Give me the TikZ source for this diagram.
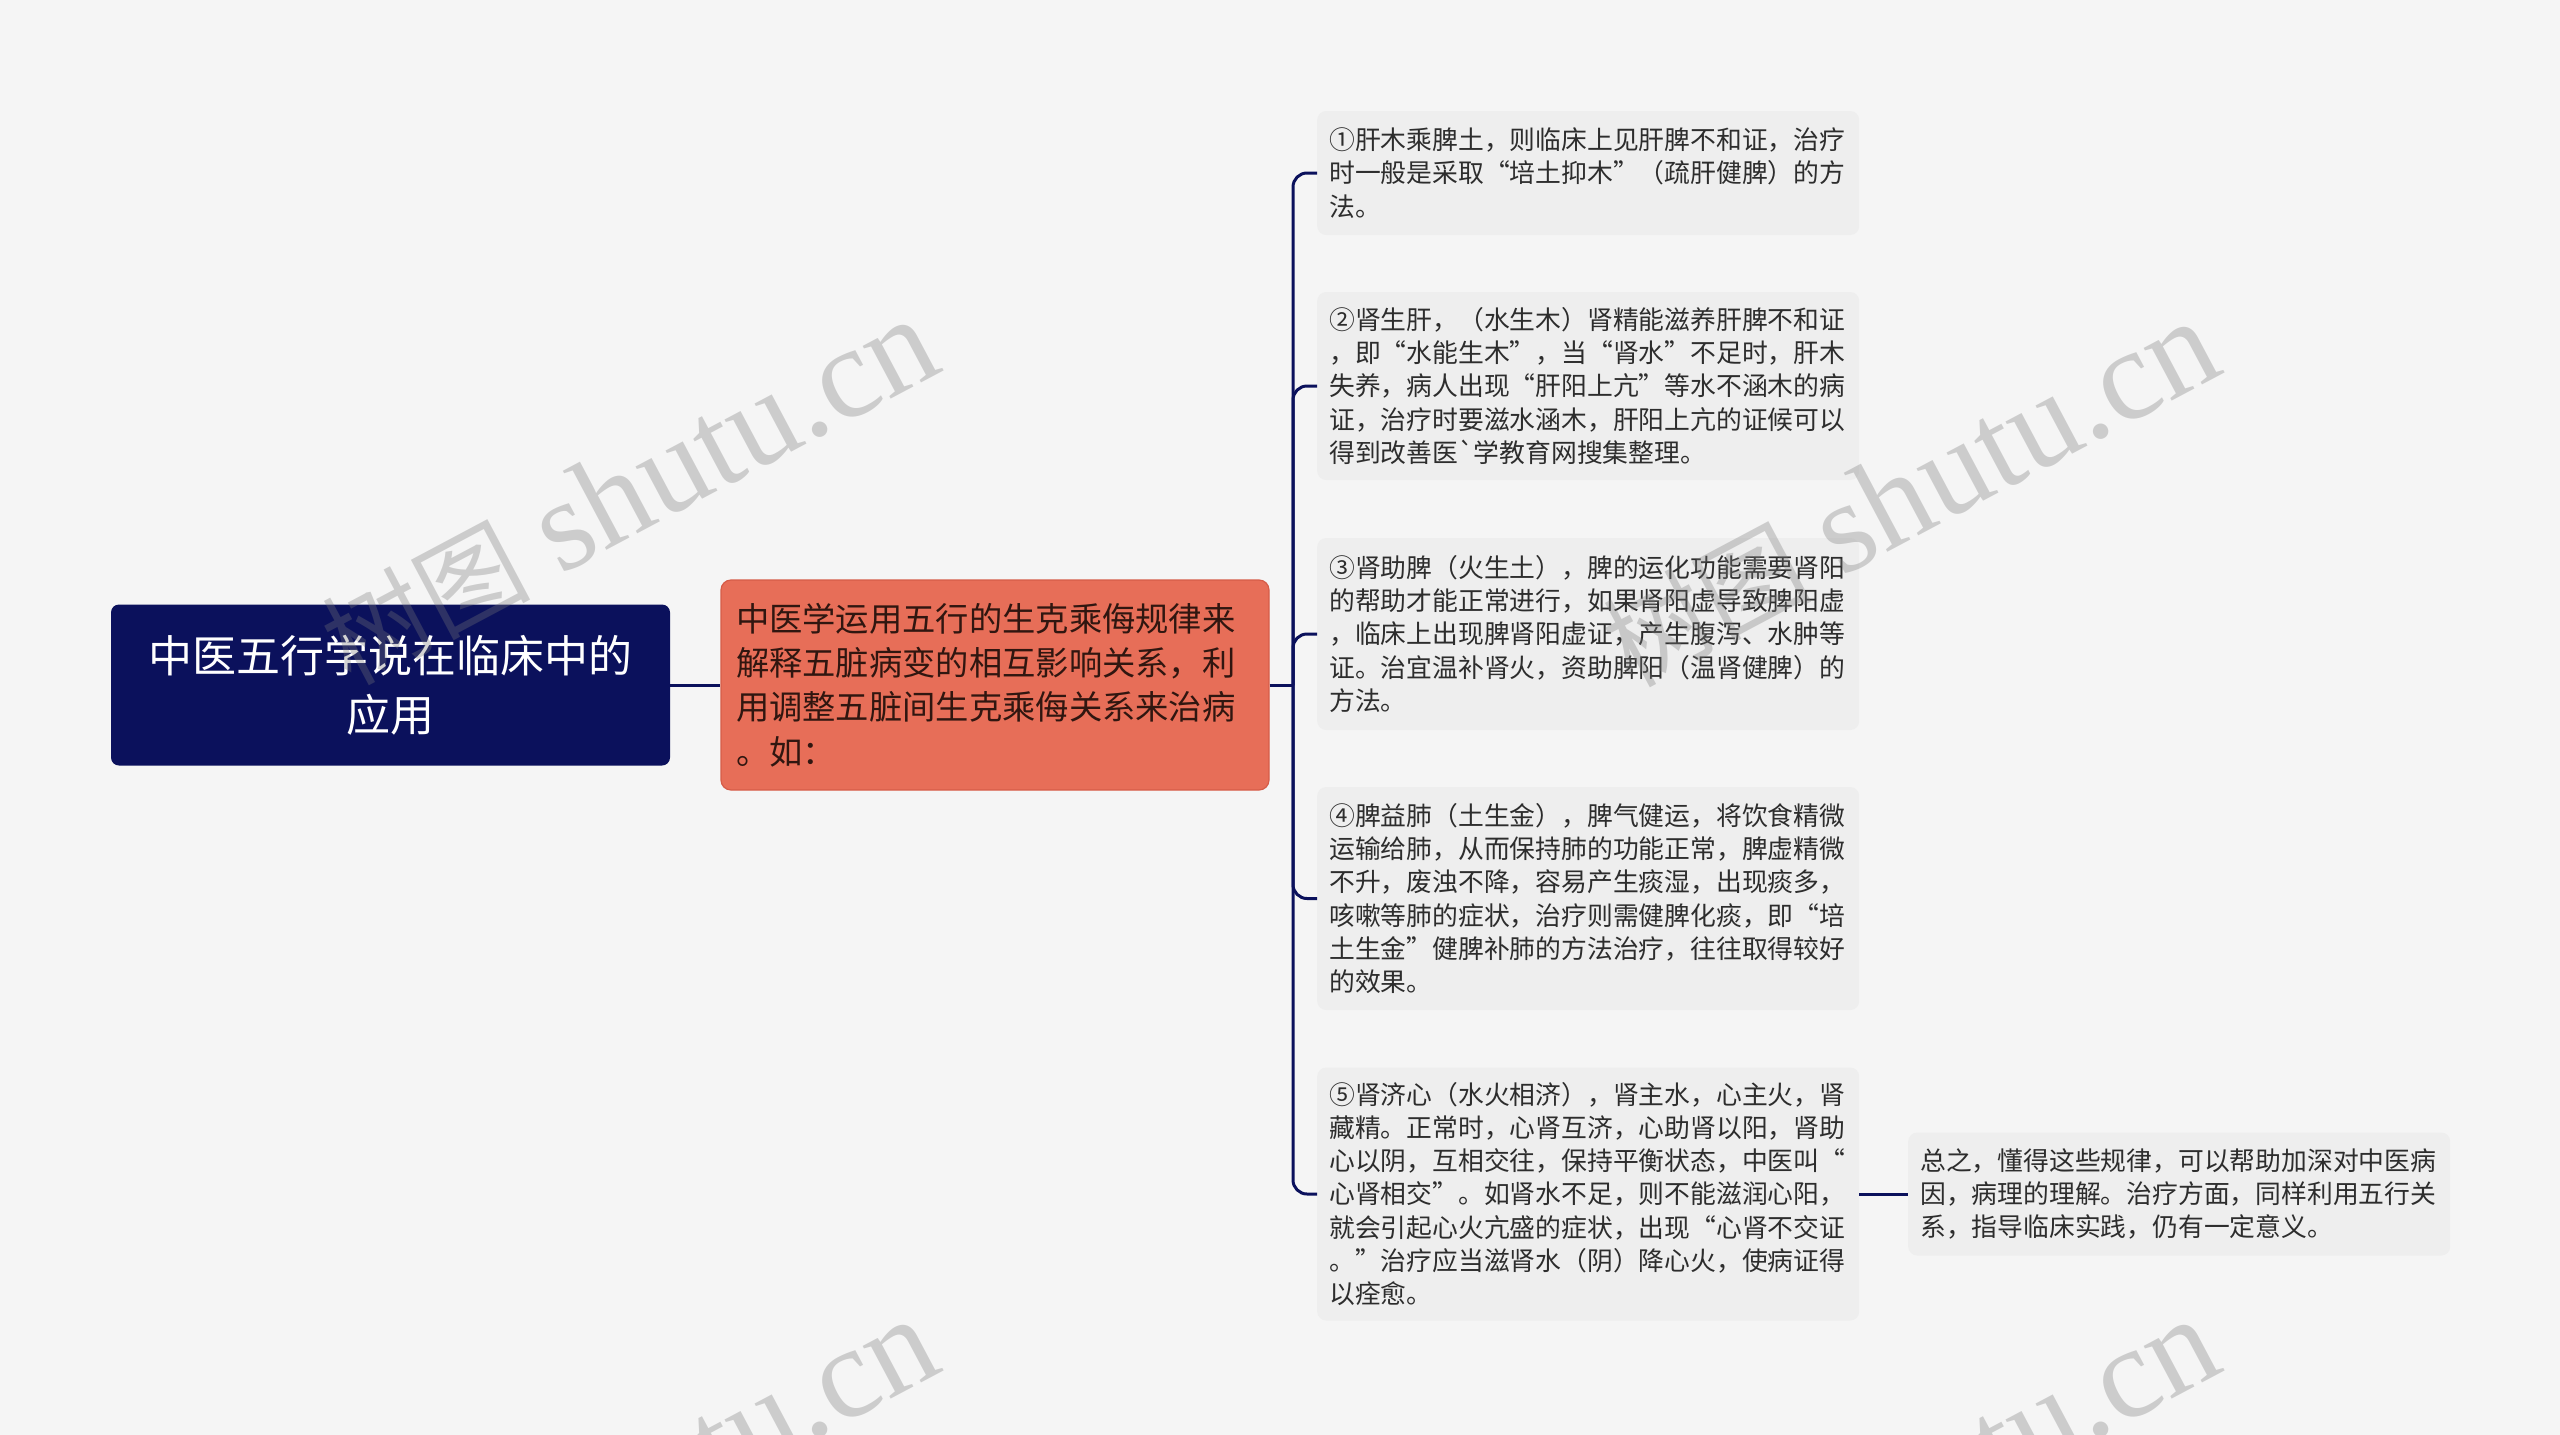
\documentclass[tikz,border=0pt]{standalone}
\usepackage{fontspec}
\setmainfont{Noto Sans CJK SC}
\newfontfamily\cjkplain{Noto Sans CJK SC}
\newfontfamily\wmlat{Liberation Serif}
\definecolor{bgcol}{RGB}{245,245,245}
\definecolor{navy}{RGB}{11,17,92}
\definecolor{orangefill}{RGB}{231,110,88}
\definecolor{orangeline}{RGB}{214,92,72}
\definecolor{orangetext}{RGB}{48,22,16}
\definecolor{cboxfill}{RGB}{238,238,238}
\definecolor{ctext}{RGB}{45,45,45}
\definecolor{wmcol}{RGB}{120,120,120}
\tikzset{
  conn/.style={draw=navy, line width=3pt},
  rootbox/.style={fill=navy, rounded corners=8pt, text=white, align=center,
    minimum width=559pt, minimum height=161pt, text width=540pt, inner sep=0pt,
    font=\fontsize{44}{59}\selectfont},
  orangebox/.style={fill=orangefill, draw=orangeline, line width=1.2pt, rounded corners=10pt,
    text=orangetext, align=left, minimum width=548pt, minimum height=210pt,
    text width=518pt, inner xsep=15pt, inner ysep=0pt,
    font=\fontsize{33.3}{44.3}\selectfont},
  childbox/.style={fill=cboxfill, rounded corners=9pt, text=ctext, align=left,
    text width=518pt, inner xsep=12pt, inner ysep=0pt, anchor=west,
    font=\fontsize{25.8}{33.3}\selectfont},
  wm/.style={text=wmcol, text opacity=0.32, rotate=28, anchor=base east, inner sep=0pt,
    font=\fontsize{130}{130}\selectfont}
}
\newcommand{\wmtext}{{\cjkplain\fontsize{104}{104}\selectfont 树图} {\wmlat shutu.cn}}
\begin{document}
\begin{tikzpicture}[x=1pt,y=-1pt]
\useasboundingbox (0,0) rectangle (2560,1435);
\fill[bgcol] (0,0) rectangle (2560,1435);

\node[rootbox] (root) at (390.5,685) {中医五行学说在临床中的\\应用};
\node[orangebox] (orange) at (995,685) {中医学运用五行的生克乘侮规律来\\解释五脏病变的相互影响关系，利\\用调整五脏间生克乘侮关系来治病\\。如：};

\node[childbox, minimum height=124pt] (c1) at (1317,173) {①肝木乘脾土，则临床上见肝脾不和证，治疗\\时一般是采取“培土抑木”（疏肝健脾）的方\\法。};
\node[childbox, minimum height=188pt] (c2) at (1317,386) {②肾生肝，（水生木）肾精能滋养肝脾不和证\\，即“水能生木”，当“肾水”不足时，肝木\\失养，病人出现“肝阳上亢”等水不涵木的病\\证，治疗时要滋水涵木，肝阳上亢的证候可以\\得到改善医{\cjkplain `}学教育网搜集整理。};
\node[childbox, minimum height=192pt] (c3) at (1317,634) {③肾助脾（火生土），脾的运化功能需要肾阳\\的帮助才能正常进行，如果肾阳虚导致脾阳虚\\，临床上出现脾肾阳虚证，产生腹泻、水肿等\\证。治宜温补肾火，资助脾阳（温肾健脾）的\\方法。};
\node[childbox, minimum height=223pt] (c4) at (1317,898.5) {④脾益肺（土生金），脾气健运，将饮食精微\\运输给肺，从而保持肺的功能正常，脾虚精微\\不升，废浊不降，容易产生痰湿，出现痰多，\\咳嗽等肺的症状，治疗则需健脾化痰，即“培\\土生金”健脾补肺的方法治疗，往往取得较好\\的效果。};
\node[childbox, minimum height=253pt] (c5) at (1317,1194) {⑤肾济心（水火相济），肾主水，心主火，肾\\藏精。正常时，心肾互济，心助肾以阳，肾助\\心以阴，互相交往，保持平衡状态，中医叫“\\心肾相交”。如肾水不足，则不能滋润心阳，\\就会引起心火亢盛的症状，出现“心肾不交证\\。”治疗应当滋肾水（阴）降心火，使病证得\\以痊愈。};
\node[childbox, minimum height=123pt] (fin) at (1908,1194) {总之，懂得这些规律，可以帮助加深对中医病\\因，病理的理解。治疗方面，同样利用五行关\\系，指导临床实践，仍有一定意义。};

\coordinate (sp) at (1293,685);
\draw[conn] (root.east) -- (orange.west);
\draw[conn] (orange.east) -- (sp);
\foreach \i in {1,...,5} {
  \draw[conn, rounded corners=14pt] (sp) |- (c\i.west);
}
\draw[conn] (c5.east) -- (fin.west);

\node[wm] (wm1) at (946,370) {\wmtext};
\node[wm] (wm2) at (2227,372) {\wmtext};
\node[wm] (wm3) at (946,1370) {\wmtext};
\node[wm] (wm4) at (2227,1370) {\wmtext};
\end{tikzpicture}
\end{document}
